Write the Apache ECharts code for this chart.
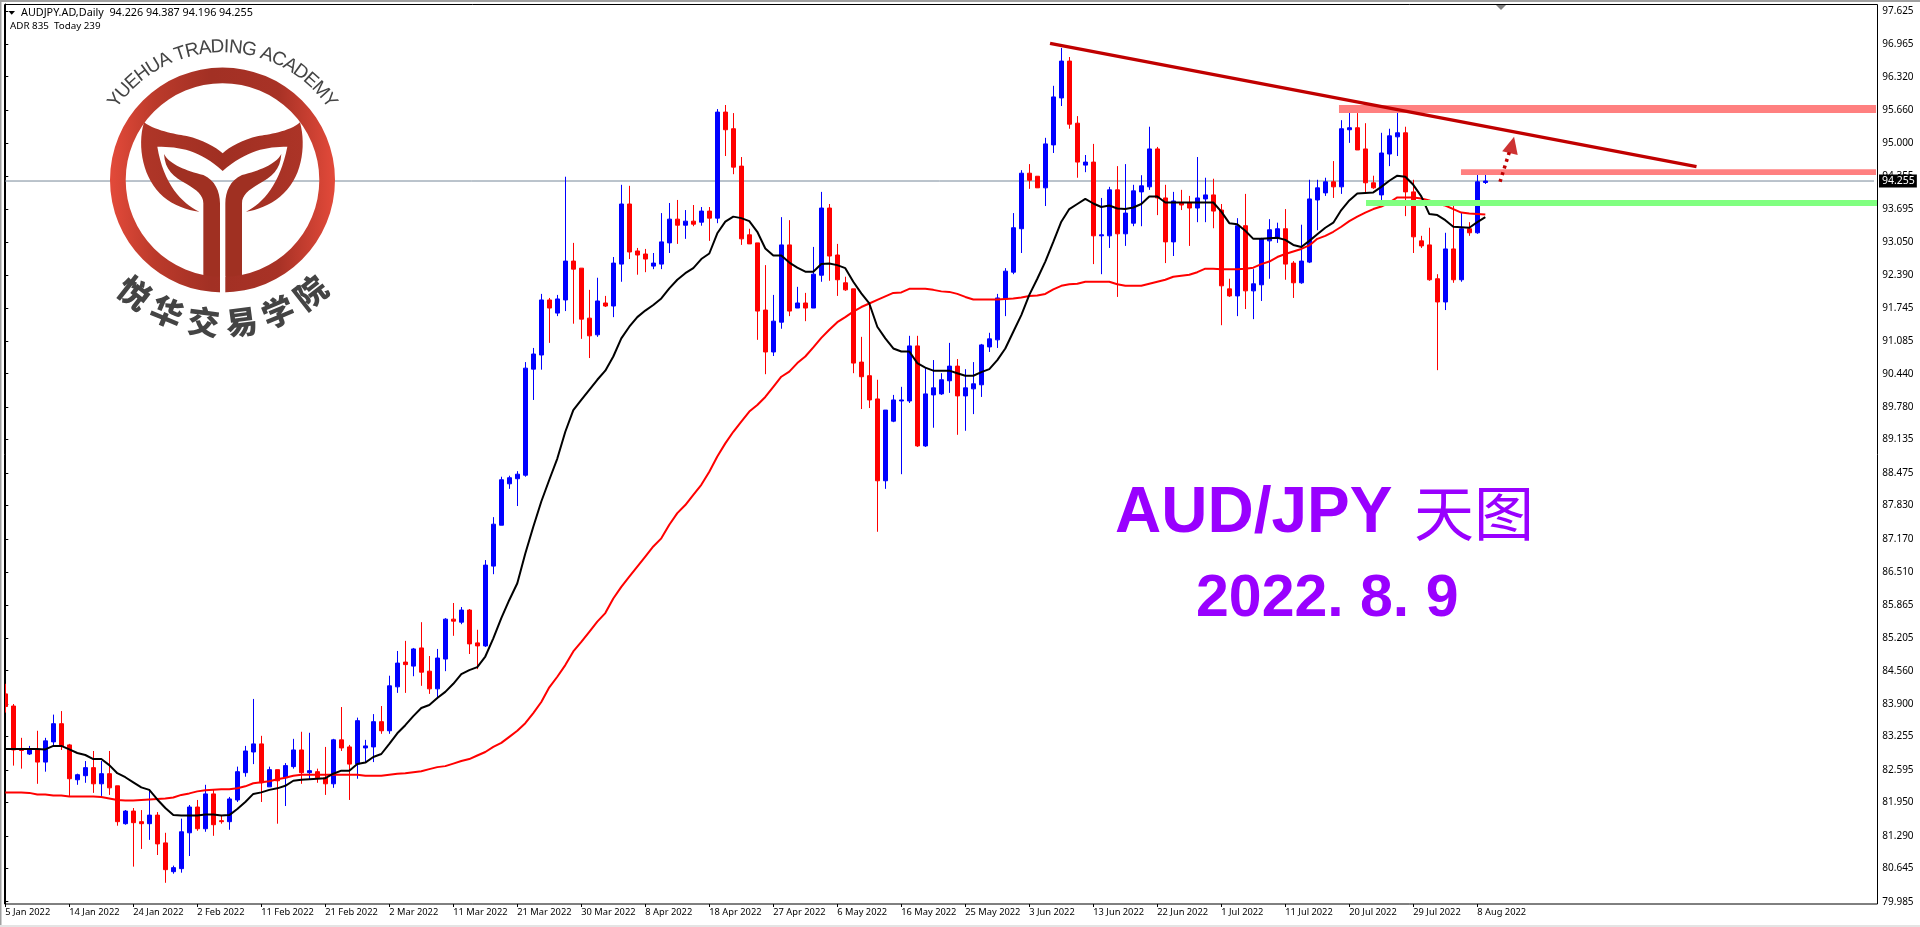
<!DOCTYPE html>
<html><head><meta charset="utf-8">
<style>html,body{margin:0;padding:0;background:#fff}#c{width:1920px;height:927px}</style>
<script src="https://cdn.jsdelivr.net/npm/echarts@6/dist/echarts.min.js"></script>
</head><body><div id="c"></div>
<script>
// Date labels along the time axis (one per 8 candles)
const dateLabels = ['5 Jan 2022','14 Jan 2022','24 Jan 2022','2 Feb 2022','11 Feb 2022','21 Feb 2022','2 Mar 2022','11 Mar 2022','21 Mar 2022','30 Mar 2022','8 Apr 2022','18 Apr 2022','27 Apr 2022','6 May 2022','16 May 2022','25 May 2022','3 Jun 2022','13 Jun 2022','22 Jun 2022','1 Jul 2022','11 Jul 2022','20 Jul 2022','29 Jul 2022','8 Aug 2022'];
const priceTicks = [97.625,96.965,96.320,95.660,95.000,94.355,93.695,93.050,92.390,91.745,91.085,90.440,89.780,89.135,88.475,87.830,87.170,86.510,85.865,85.205,84.560,83.900,83.255,82.595,81.950,81.290,80.645,79.985];
// [open, close, low, high]
const ohlc = [
[84.10,83.85,83.73,84.30],[83.86,82.99,82.68,83.90],[83.02,82.98,82.62,83.23],[82.91,82.99,82.89,83.07],[82.99,82.75,82.32,83.37],[82.75,83.17,82.56,83.23],[83.15,83.51,83.07,83.69],[83.51,83.07,82.99,83.76],[83.09,82.42,82.08,83.11],[82.40,82.50,82.30,82.52],
[82.48,82.64,82.34,82.77],[82.64,82.32,82.14,82.97],[82.32,82.52,82.08,82.77],[82.52,82.24,82.10,82.97],[82.28,81.57,81.49,82.28],[81.53,81.78,81.51,81.80],[81.78,81.55,80.68,81.84],[81.57,81.53,81.03,81.80],[81.53,81.70,81.21,82.20],[81.70,81.13,80.91,81.76],
[81.15,80.62,80.36,81.35],[80.58,80.66,80.54,80.70],[80.64,81.37,80.56,81.63],[81.35,81.86,80.89,81.90],[81.86,81.43,81.39,82.00],[81.43,82.12,81.37,82.30],[82.12,81.51,81.29,82.20],[81.59,81.57,81.53,81.69],[81.57,82.02,81.41,82.06],[82.00,82.56,81.96,82.66],
[82.54,82.97,82.46,83.07],[82.95,83.11,82.71,84.00],[83.11,82.34,81.96,83.27],[82.26,82.60,82.26,82.66],[82.60,82.38,81.53,82.60],[82.44,82.68,81.88,82.73],[82.66,82.99,82.62,83.21],[82.99,82.54,82.32,83.35],[82.54,82.58,82.40,83.33],[82.56,82.44,82.34,82.62],
[82.44,82.32,82.10,83.05],[82.32,83.19,82.24,83.21],[83.19,83.03,82.97,83.84],[83.05,82.71,82.00,83.09],[82.71,83.57,82.42,83.63],[83.03,83.07,82.75,83.19],[83.05,83.55,82.75,83.70],[83.55,83.37,83.31,83.86],[83.37,84.26,83.31,84.46],[84.24,84.71,84.12,84.95],
[84.73,84.68,84.12,85.15],[84.65,84.99,84.45,85.01],[85.01,84.53,84.26,85.52],[84.55,84.20,84.10,84.85],[84.20,84.81,84.00,84.99],[84.79,85.58,84.55,85.60],[85.58,85.54,85.25,85.90],[85.52,85.76,85.48,85.82],[85.76,85.09,84.89,85.78],[85.11,85.05,84.59,85.37],
[85.05,86.65,85.03,86.75],[86.63,87.46,86.47,87.60],[87.44,88.34,87.44,88.40],[88.26,88.38,88.16,88.42],[88.36,88.45,87.82,88.51],[88.43,90.55,88.40,90.67],[90.53,90.83,89.92,90.95],[90.81,91.90,90.52,92.02],[91.90,91.74,91.05,91.94],[91.64,91.92,91.58,92.00],
[91.90,92.67,91.68,94.34],[92.67,92.51,91.43,93.03],[92.53,91.52,91.13,92.53],[91.54,91.19,90.75,92.10],[91.21,91.88,91.17,92.34],[91.84,91.78,91.76,91.98],[91.78,92.63,91.56,92.75],[92.61,93.80,92.26,94.18],[93.80,92.85,92.71,94.16],[92.87,92.79,92.40,92.93],
[92.81,92.71,92.45,92.91],[92.57,92.63,92.51,92.83],[92.61,93.05,92.51,93.62],[93.03,93.50,92.83,93.82],[93.50,93.38,93.01,93.88],[93.38,93.46,93.11,93.68],[93.46,93.40,93.36,93.78],[93.44,93.66,93.37,93.74],[93.66,93.52,93.07,93.74],[93.52,95.62,93.42,95.68],
[95.62,95.27,94.75,95.76],[95.29,94.53,94.39,95.60],[94.55,93.11,92.99,94.73],[93.19,93.01,93.01,93.31],[93.03,91.68,91.11,93.03],[91.70,90.87,90.43,92.59],[90.87,91.48,90.79,92.00],[91.46,92.99,91.33,93.54],[92.99,91.68,91.58,93.48],[91.74,91.84,91.74,92.16],
[91.84,91.74,91.48,92.04],[91.74,92.41,91.74,92.95],[92.39,93.72,92.26,94.04],[93.72,92.77,92.28,93.80],[92.79,92.30,91.98,93.01],[92.24,92.10,92.08,92.36],[92.12,90.65,90.45,92.12],[90.67,90.38,89.74,91.17],[90.40,89.92,89.76,91.78],[89.94,88.32,87.31,90.32],
[88.32,89.72,88.16,89.72],[89.50,89.92,89.48,90.02],[89.90,89.92,88.45,90.18],[89.90,90.99,89.86,91.19],[90.99,89.01,88.99,91.19],[89.01,90.04,88.99,90.55],[90.02,90.16,89.37,90.71],[90.04,90.32,90.02,90.45],[90.30,90.59,90.06,91.05],[90.59,90.00,89.23,90.73],
[90.00,90.16,89.31,90.53],[90.14,90.24,89.64,90.67],[90.22,91.01,89.98,91.03],[90.97,91.13,90.87,91.25],[91.11,91.94,90.95,92.02],[91.92,92.47,91.58,92.53],[92.45,93.33,92.41,93.62],[93.31,94.41,92.83,94.47],[94.41,94.27,94.10,94.59],[94.35,94.12,94.12,94.35],
[94.12,94.99,93.76,95.11],[94.97,95.92,94.81,96.14],[95.90,96.63,95.74,96.89],[96.63,95.38,95.29,96.71],[95.40,94.63,94.32,95.54],[94.57,94.63,94.43,94.77],[94.63,93.17,92.61,94.99],[93.17,93.19,92.41,93.92],[93.17,94.08,92.93,94.14],[94.08,93.21,91.96,94.55],
[93.21,93.62,92.97,94.59],[93.42,94.06,93.36,94.18],[94.04,94.16,93.36,94.37],[94.14,94.89,94.08,95.33],[94.89,93.92,93.58,94.93],[93.92,93.05,92.63,94.18],[93.05,93.86,92.77,94.04],[93.82,93.78,93.68,94.08],[93.82,93.72,92.97,93.96],[93.72,93.92,93.44,94.73],
[93.90,93.98,93.44,94.32],[93.98,93.66,93.32,94.30],[93.68,92.18,91.40,93.80],[92.12,91.98,91.96,92.32],[91.98,93.37,91.58,93.52],[93.37,92.08,91.72,94.00],[92.08,92.22,91.52,92.51],[92.20,93.11,91.88,93.13],[93.07,93.29,92.32,93.50],[93.13,93.31,93.03,93.43],
[93.31,92.61,92.30,93.70],[92.63,92.24,91.94,92.67],[92.24,92.67,92.22,93.39],[92.65,93.90,92.63,94.28],[93.88,94.12,93.28,94.28],[94.02,94.24,93.96,94.32],[94.24,94.14,93.92,94.65],[94.14,95.29,94.00,95.46],[95.27,95.31,95.01,95.76],[95.31,94.87,94.87,95.60],
[94.89,94.22,94.01,95.40],[94.22,94.12,94.10,94.36],[93.98,94.81,93.88,95.21],[94.79,95.15,94.55,95.29],[95.13,95.21,94.75,95.64],[95.21,94.04,93.56,95.33],[94.04,93.15,92.83,94.28],[93.07,92.97,92.93,93.17],[92.99,92.30,92.28,93.33],[92.32,91.86,90.51,92.41],
[91.86,92.91,91.70,93.23],[92.91,92.30,92.24,93.82],[92.30,93.31,92.26,93.62],[93.31,93.23,93.17,93.44],[93.23,94.24,93.21,94.43],[94.226,94.255,94.196,94.387]
];
const fastMA = [83.01,83.01,83.01,83.01,83.01,83.00,83.07,83.07,83.00,82.93,82.89,82.81,82.81,82.69,82.53,82.45,82.35,82.25,82.20,82.01,81.84,81.70,81.69,81.69,81.69,81.71,81.71,81.69,81.70,81.82,81.96,82.12,82.15,82.20,82.23,82.28,82.38,82.40,82.41,82.42,82.43,82.52,82.58,82.58,82.71,82.74,82.85,82.91,83.11,83.32,
83.48,83.66,83.82,83.88,84.02,84.14,84.30,84.49,84.57,84.63,84.84,85.20,85.60,85.96,86.29,86.88,87.41,87.91,88.34,88.76,89.29,89.72,89.92,90.12,90.32,90.50,90.78,91.14,91.37,91.56,91.69,91.80,91.93,92.13,92.30,92.43,92.53,92.71,92.82,93.22,93.45,93.55,93.52,93.46,93.25,92.92,92.78,92.78,92.64,92.54,
92.46,92.46,92.61,92.62,92.59,92.53,92.26,92.03,91.83,91.37,91.14,90.94,90.88,90.88,90.65,90.56,90.50,90.50,90.50,90.45,90.40,90.40,90.47,90.53,90.71,90.94,91.27,91.60,92.00,92.32,92.66,93.05,93.45,93.70,93.80,93.90,93.81,93.74,93.77,93.71,93.70,93.73,93.80,93.95,93.95,93.83,93.83,93.83,93.83,93.83,
93.83,93.83,93.65,93.42,93.40,93.27,93.11,93.11,93.12,93.13,93.09,92.99,92.95,93.07,93.20,93.33,93.43,93.68,93.87,94.01,94.02,94.03,94.14,94.26,94.36,94.34,94.18,93.95,93.60,93.58,93.48,93.35,93.34,93.33,93.44,93.54];
const slowMA = [82.15,82.15,82.15,82.14,82.11,82.11,82.09,82.09,82.07,82.07,82.07,82.07,82.06,82.03,82.00,81.99,81.99,82.00,82.01,82.02,82.03,82.05,82.10,82.13,82.17,82.19,82.20,82.21,82.21,82.23,82.27,82.33,82.35,82.37,82.41,82.44,82.48,82.50,82.50,82.50,82.50,82.50,82.50,82.50,82.50,82.48,82.48,82.48,82.50,82.52,
82.53,82.55,82.57,82.61,82.65,82.67,82.72,82.77,82.81,82.88,82.95,83.05,83.13,83.25,83.37,83.52,83.72,83.94,84.23,84.44,84.67,84.94,85.13,85.33,85.53,85.70,85.99,86.22,86.42,86.62,86.82,87.02,87.18,87.45,87.68,87.84,88.04,88.24,88.50,88.80,89.06,89.29,89.49,89.69,89.82,89.98,90.18,90.38,90.48,90.65,
90.78,90.96,91.15,91.31,91.46,91.56,91.67,91.76,91.83,91.90,91.97,92.04,92.05,92.12,92.12,92.12,92.10,92.07,92.06,92.02,91.96,91.91,91.91,91.91,91.91,91.92,91.93,91.95,91.98,91.99,92.02,92.11,92.18,92.21,92.22,92.26,92.26,92.26,92.26,92.21,92.18,92.18,92.18,92.22,92.26,92.30,92.36,92.38,92.40,92.45,
92.52,92.52,92.51,92.51,92.51,92.52,92.54,92.61,92.66,92.75,92.81,92.86,92.91,92.98,93.11,93.17,93.25,93.35,93.46,93.55,93.63,93.70,93.75,93.83,93.93,93.93,93.93,93.91,93.87,93.80,93.77,93.70,93.63,93.61,93.60,93.59];
const lastPrice = 94.255;
// Drawn objects, in (bar position, price)
const trendLine = [[130.59,96.98],[211.40,94.54]];
const zoneRed1 = [166.71,233.84,95.76,95.60];
const zoneRed2 = [181.96,233.84,94.49,94.375];
const zoneGreen = [170.09,233.96,93.88,93.76];
const arrowShaft = [[186.84,94.24],[188.09,94.87]];
const arrowHead = [[188.34,94.97]];

const BARS = 234;
const categories = Array.from({length:BARS},(_, i)=> i%8===0 && i/8<dateLabels.length ? dateLabels[i/8] : 'b'+i);
const zones = [zoneRed1,zoneRed2,zoneGreen];
const zoneColors = ['#ff8080','#ff8080','#80ff80'];
const uiFont = '"Noto Sans", sans-serif';
const onTick = (index)=> index%8===0 && index<=184;

const g = [];
const ringFill = new echarts.graphic.LinearGradient(0,0,1,0,[{offset:0,color:'#e34a3a'},{offset:.2,color:'#bb3a2b'},{offset:.45,color:'#a23024'},{offset:.75,color:'#a83226'},{offset:1,color:'#e34a3a'}]);
g.push({type:'ring',z:20,shape:{cx:222.5,cy:180,r:112.5,r0:96.8},style:{fill:ringFill}});
const tailFill = new echarts.graphic.LinearGradient(0,0,1,0,[{offset:0,color:'#b03628'},{offset:.5,color:'#a02f22'},{offset:1,color:'#ac3427'}]);
const logoPaths = [
 'M432,367 C470,395 540,405 560,408 C610,420 645,440 668,460 C690,440 725,420 775,408 C800,405 870,395 900,367 C920,440 905,540 840,590 C810,615 770,630 738,635 C790,610 840,550 862,440 C800,440 740,450 668,513 C600,450 540,440 472,440 C490,550 545,610 598,635 C560,630 520,615 490,590 C430,540 410,440 432,367 Z',
 'M492,462 C510,495 560,512 610,525 C645,540 660,575 660,610 L660,845 C660,862 645,872 625,872 L600,865 L610,825 L610,610 C610,585 590,570 560,552 C520,530 495,510 492,462 Z',
 'M844,462 C826,495 776,512 726,525 C691,540 676,575 676,610 L676,845 C676,862 691,872 711,872 L736,865 L726,825 L726,610 C726,585 746,570 776,552 C816,530 841,510 844,462 Z'];
g.push({type:'rect',z:22,shape:{x:220,y:276,width:5.3,height:20},style:{fill:'#fff'}});
// Arc text of the logo
const arcFont = '19px "Liberation Sans"';
const measure = document.createElement('canvas').getContext('2d');
measure.font = arcFont;
const arcText = 'YUEHUA TRADING ACADEMY';
const widths = [...arcText].map(c=>measure.measureText(c).width);
const total = widths.reduce((a,b)=>a+b,0);
const arcR = 133, arcSpan = 112*Math.PI/180;
let run = 0;
[...arcText].forEach((c,i)=>{
  const a = -arcSpan/2 + (run+widths[i]/2)/total*arcSpan; run += widths[i];
  g.push({type:'text',z:20,x:222.5+arcR*Math.sin(a),y:180-arcR*Math.cos(a),rotation:-a,style:{text:c,font:arcFont,fill:'#444',align:'center',verticalAlign:'middle'}});
});
[...'悦华交易学院'].forEach((c,i)=>{
  const a = (-38+i*15.2)*Math.PI/180;
  g.push({type:'text',z:20,x:222.5+143*Math.sin(a),y:180+143*Math.cos(a),rotation:a,style:{text:c,font:'900 32px "Noto Sans CJK SC"',fill:'#444',align:'center',verticalAlign:'middle'}});
});
// Window chrome
g.push({type:'rect',z:30,shape:{x:1.5,y:2,width:3,height:905},style:{fill:'#fff'}});
g.push({type:'rect',z:30,shape:{x:0,y:0,width:1.5,height:925},style:{fill:'#a0a0a0'}});
g.push({type:'rect',z:30,shape:{x:0,y:0,width:1920,height:2},style:{fill:'#a0a0a0'}});
g.push({type:'rect',z:30,shape:{x:0,y:925,width:1920,height:2},style:{fill:'#e4e4e4'}});
g.push({type:'rect',z:31,shape:{x:4.5,y:4.5,width:1873,height:899.5},style:{fill:'none',stroke:'#000',lineWidth:1}});
g.push({type:'polygon',z:31,shape:{points:[[8.5,11],[15,11],[11.7,14.7]]},style:{fill:'#000'}});
g.push({type:'polygon',z:31,shape:{points:[[1496,5],[1506,5],[1501,10]]},style:{fill:'#808080'}});
// Header and title text
g.push({type:'text',z:31,x:21,y:12.5,style:{text:'AUDJPY.AD,Daily  94.226 94.387 94.196 94.255',font:'10.8px '+uiFont,fill:'#000',verticalAlign:'middle'}});
g.push({type:'text',z:31,x:10,y:26,style:{text:'ADR 835  Today 239',font:'9.8px '+uiFont,fill:'#000',verticalAlign:'middle'}});
g.push({type:'text',z:31,x:1115,y:514,style:{text:'AUD/JPY',font:'bold 64px "Liberation Sans"',fill:'#9900ff',verticalAlign:'middle'}});
g.push({type:'text',z:31,x:1414,y:513,style:{text:'天图',font:'60px "Noto Sans CJK SC"',fill:'#9900ff',verticalAlign:'middle'}});
g.push({type:'text',z:31,x:1196,y:600,style:{text:'2022. 8. 9',font:'bold 59px "Liberation Sans"',fill:'#9900ff',verticalAlign:'middle'}});

const chart = echarts.init(document.getElementById('c'),null,{renderer:'canvas'});
chart.setOption({
  animation:false,
  backgroundColor:'#fff',
  grid:{left:1.3,width:BARS*8,top:4,height:900},
  xAxis:[
    {type:'category',data:categories,boundaryGap:true,
     axisLine:{show:false},
     axisTick:{show:true,alignWithLabel:true,interval:onTick,length:3,lineStyle:{color:'#000'}},
     axisLabel:{interval:onTick,align:'left',margin:4,color:'#000',fontFamily:uiFont,fontSize:9.3},
     splitLine:{show:false}},
    {type:'value',min:-0.5,max:BARS-0.5,show:false,splitLine:{show:false}}
  ],
  yAxis:{type:'value',position:'right',offset:4,min:79.94,max:97.76,scale:true,
     axisLine:{show:true,lineStyle:{color:'#000'}},
     axisTick:{show:true,length:3,customValues:priceTicks,lineStyle:{color:'#000'}},
     axisLabel:{customValues:priceTicks,margin:5,color:'#000',fontFamily:uiFont,fontSize:10,formatter:v=>Number(v).toFixed(3)},
     splitLine:{show:false}},
  graphic:{elements:g},
  series:[
    {type:'line',name:'last',xAxisIndex:1,clip:false,z:1,silent:true,showSymbol:false,symbol:'none',
     data:[[-0.16,lastPrice],[233.96,lastPrice]],lineStyle:{color:'#778899',width:1}},
    {type:'candlestick',name:'AUDJPY',z:2,barWidth:4,data:ohlc,
     itemStyle:{color:'#0000ff',color0:'#ff0000',borderColor:'#0000ff',borderColor0:'#ff0000',borderColorDoji:'#0000ff',borderWidth:1}},
    {type:'line',name:'slow',z:3,data:slowMA,showSymbol:false,symbol:'none',lineStyle:{color:'#ff0000',width:2}},
    {type:'line',name:'fast',z:3,data:fastMA,showSymbol:false,symbol:'none',lineStyle:{color:'#000',width:2}},
    {type:'custom',name:'zones',xAxisIndex:1,z:5,clip:false,silent:true,data:zones,
     renderItem:(p,api)=>{
       const a=api.coord([api.value(0),api.value(2)]), b=api.coord([api.value(1),api.value(3)]);
       return {type:'rect',shape:{x:a[0],y:a[1],width:b[0]-a[0],height:b[1]-a[1]},style:{fill:zoneColors[p.dataIndex],blend:'multiply'}};
     }},
    {type:'line',name:'trend',xAxisIndex:1,z:6,clip:false,silent:true,showSymbol:false,symbol:'none',data:trendLine,lineStyle:{color:'#c00000',width:3.5}},
    {type:'line',name:'arrow',xAxisIndex:1,z:6,clip:false,silent:true,showSymbol:false,symbol:'none',data:arrowShaft,lineStyle:{color:'#c00000',width:3.5,type:[3,4]}},
    {type:'scatter',name:'arrowHead',xAxisIndex:1,z:6,clip:false,silent:true,data:arrowHead,symbol:'triangle',symbolSize:[16,17],symbolRotate:-14,itemStyle:{color:'#c00000'}},
    {type:'custom',name:'logo',coordinateSystem:'none',z:8,silent:true,data:[[0]],
     renderItem:()=>({type:'group',scaleX:1/3,scaleY:1/3,children:logoPaths.map((d,i)=>({type:'path',shape:{pathData:d},style:{fill:i===0?tailFill:'#a03022'}}))})}
  ]
});
// Current-price tag, placed on the price axis scale
const tagY = chart.convertToPixel({yAxisIndex:0}, lastPrice);
chart.setOption({graphic:{elements:g.concat([{type:'text',z:32,x:1879,y:tagY,style:{text:lastPrice.toFixed(3),font:'10.5px '+uiFont,fill:'#fff',backgroundColor:'#000',padding:[1,2,1,3],verticalAlign:'middle'}}])}});
</script></body></html>
